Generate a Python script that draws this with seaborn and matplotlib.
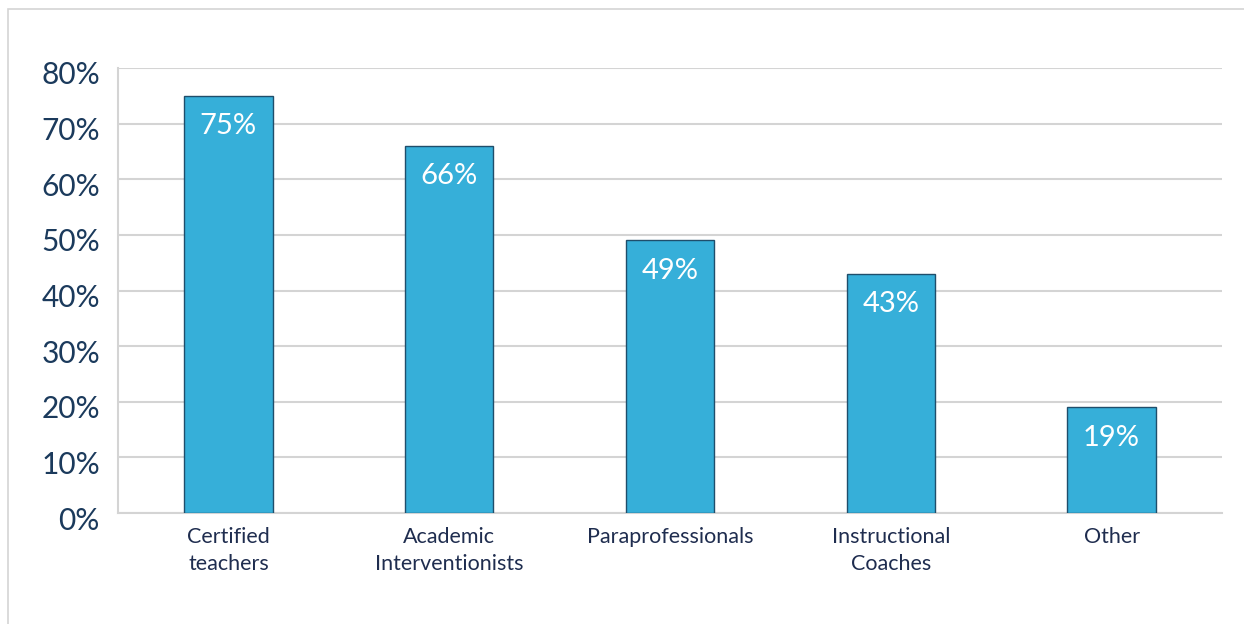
import matplotlib
matplotlib.use("Agg")
import matplotlib.pyplot as plt
import matplotlib.transforms as mtrans
import seaborn as sns
import pandas as pd
from matplotlib.patches import Rectangle

categories = ["Certified\nteachers", "Academic\nInterventionists", "Paraprofessionals",
              "Instructional\nCoaches", "Other"]
values = [75, 66, 49, 43, 19]
yticks = [0, 10, 20, 30, 40, 50, 60, 70, 80]

sns.set_theme(style="white")
plt.rcParams['font.family'] = ['Lato', 'DejaVu Sans']

df = pd.DataFrame({"cat": categories, "val": values})

fig = plt.figure(figsize=(12.44, 6.24), dpi=100)
fig.patches.append(Rectangle((8/1244, -0.1), 1.2, (624-9)/624 + 0.1, transform=fig.transFigure,
                             fill=False, edgecolor="#d4d4d4", linewidth=1.2))
ax = fig.add_axes([118/1244, 111/624, (1222-118)/1244, (513-68)/624])

sns.barplot(data=df, x="cat", y="val", color="#36AFD9", saturation=1, width=0.4,
            edgecolor="#1F4E6B", linewidth=1, ax=ax, zorder=3)

ax.set_ylim(0, 80)
ax.set_xlim(-0.5, 4.5)
ax.set_yticks(yticks)
ax.set_yticklabels([f"{t}%" for t in yticks], fontsize=21.5, color="#1B3A5C")
ax.tick_params(axis="x", labelsize=15.5, colors="#1F2D4F", length=0, pad=10)
ax.tick_params(axis="y", length=0, pad=13)
for lab in ax.get_xticklabels():
    lab.set_linespacing(1.45)
shift = mtrans.ScaledTranslation(0, -5/100, fig.dpi_scale_trans)
for lab in ax.get_yticklabels():
    lab.set_transform(lab.get_transform() + shift)
ax.set_xlabel("")
ax.set_ylabel("")
ax.yaxis.grid(True, color="#d4d4d4", linewidth=1.5, zorder=0)
ax.set_axisbelow(True)
for s in ["top", "right"]:
    ax.spines[s].set_visible(False)
for s in ["left", "bottom"]:
    ax.spines[s].set_color("#d4d4d4")
    ax.spines[s].set_linewidth(1.5)

for i, v in enumerate(values):
    ax.annotate(f"{v}%", (i, v), xytext=(0, -22), textcoords="offset points",
                ha="center", va="center", color="white", fontsize=21, zorder=5)

fig.savefig("out.png", dpi=100)
